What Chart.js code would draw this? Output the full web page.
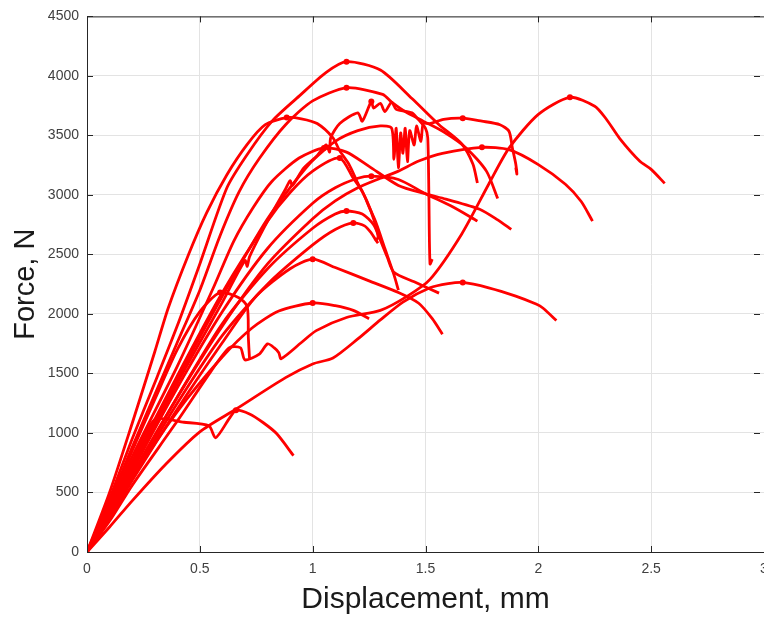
<!DOCTYPE html>
<html>
<head>
<meta charset="utf-8">
<script src="https://cdn.jsdelivr.net/npm/chart.js@4.4.1/dist/chart.umd.min.js"></script>
<style>
  html, body { margin: 0; padding: 0; background: #fff; overflow: hidden; }
  #wrap { position: absolute; left: 0; top: 0; width: 764px; height: 618px; }
</style>
</head>
<body>
<div id="wrap"><canvas id="forceChart" width="764" height="618"></canvas></div>
<script>
// displacement (mm), force (N) pairs
const specimen01 = [[0,0],[0.1,450],[0.2,950],[0.3,1420],[0.4,1900],[0.5,2420],[0.62,3060],[0.71,3340],[0.82,3620],[0.94,3830],[1.06,4030],[1.15,4120],[1.3,4050],[1.44,3810],[1.56,3590],[1.66,3430],[1.71,3260],[1.73,3100]];
const specimen02 = [[0,0],[0.1,420],[0.2,880],[0.3,1320],[0.4,1760],[0.5,2200],[0.59,2660],[0.675,3030],[0.765,3310],[0.88,3590],[1.0,3790],[1.15,3900],[1.31,3845],[1.35,3780],[1.41,3700],[1.49,3620],[1.58,3530],[1.68,3395],[1.77,3200],[1.82,2970]];
const specimen03 = [[0,0],[0.1,500],[0.2,1080],[0.3,1680],[0.36,2050],[0.45,2500],[0.53,2850],[0.62,3170],[0.71,3425],[0.79,3590],[0.885,3650],[0.95,3640],[1.02,3600],[1.09,3480],[1.12,3370],[1.16,3260],[1.2,3100],[1.24,2950],[1.27,2800],[1.29,2650],[1.28,2610]];
const specimen04 = [[0,0],[0.1,330],[0.2,700],[0.4,1420],[0.6,2100],[0.7,2450],[0.71,2400],[0.72,2480],[0.8,2780],[0.88,3050],[0.9,3120],[0.91,3080],[0.96,3225],[1.02,3330],[1.06,3420],[1.075,3360],[1.08,3480],[1.12,3600],[1.2,3690],[1.22,3620],[1.26,3785],[1.27,3730],[1.3,3770],[1.32,3700],[1.35,3780],[1.37,3720],[1.44,3690],[1.47,3630],[1.5,3560],[1.51,3480],[1.515,3000],[1.52,2420],[1.53,2460]];
const specimen05 = [[0,0],[0.1,330],[0.2,720],[0.4,1450],[0.6,2150],[0.8,2800],[0.985,3260],[1.1,3450],[1.2,3540],[1.3,3580],[1.35,3560],[1.36,3300],[1.37,3560],[1.38,3230],[1.39,3520],[1.4,3350],[1.41,3560],[1.42,3280],[1.43,3540],[1.45,3420],[1.46,3580],[1.48,3450],[1.49,3600],[1.52,3600],[1.58,3635],[1.665,3645],[1.75,3620],[1.83,3590],[1.87,3535],[1.885,3395],[1.9,3260],[1.905,3175],[1.9,3230]];
const specimen06 = [[0,0],[0.1,360],[0.2,800],[0.4,1560],[0.56,2220],[0.65,2610],[0.735,2890],[0.82,3115],[0.94,3310],[1.05,3395],[1.15,3360],[1.25,3240],[1.38,3080],[1.5,3010],[1.59,2965],[1.74,2880],[1.82,2790],[1.88,2710]];
const specimen07 = [[0,0],[0.1,340],[0.2,740],[0.4,1480],[0.6,2180],[0.8,2780],[0.9,3020],[1.0,3200],[1.12,3310],[1.18,3140],[1.22,3030],[1.25,2900],[1.28,2770],[1.32,2550],[1.36,2330],[1.38,2200]];
const specimen08 = [[0,0],[0.1,300],[0.2,650],[0.4,1300],[0.6,1900],[0.8,2420],[1.0,2800],[1.1,2950],[1.2,3060],[1.3,3140],[1.38,3200],[1.47,3285],[1.575,3350],[1.75,3400],[1.87,3380],[2.0,3255],[2.12,3090],[2.19,2945],[2.24,2780]];
const specimen09 = [[0,0],[0.1,310],[0.2,680],[0.4,1380],[0.6,2020],[0.8,2550],[1.0,2930],[1.1,3060],[1.2,3140],[1.26,3158],[1.38,3130],[1.5,3010],[1.62,2900],[1.73,2780]];
const specimen10 = [[0,0],[0.1,300],[0.2,640],[0.4,1300],[0.6,1920],[0.8,2380],[1.0,2720],[1.1,2840],[1.15,2865],[1.22,2840],[1.27,2750],[1.3,2620],[1.33,2480],[1.36,2350],[1.45,2270],[1.56,2175]];
const specimen11 = [[0,0],[0.1,290],[0.2,620],[0.4,1250],[0.6,1820],[0.8,2250],[1.0,2580],[1.1,2710],[1.18,2765],[1.23,2740],[1.26,2680],[1.28,2620],[1.29,2595]];
const specimen12 = [[0,0],[0.1,280],[0.2,600],[0.4,1200],[0.6,1760],[0.75,2150],[0.9,2380],[1.0,2460],[1.1,2390],[1.25,2278],[1.38,2180],[1.47,2090],[1.53,1960],[1.575,1830]];
const specimen13 = [[0,0],[0.1,400],[0.2,850],[0.3,1280],[0.4,1700],[0.5,2020],[0.59,2180],[0.675,2135],[0.71,2060],[0.715,1800],[0.72,1630]];
const specimen14 = [[0,0],[0.1,280],[0.2,620],[0.4,1180],[0.6,1640],[0.73,1880],[0.85,2025],[1.0,2092],[1.1,2070],[1.18,2030],[1.25,1960]];
const specimen15 = [[0,0],[0.1,210],[0.2,430],[0.35,740],[0.5,1010],[0.66,1200],[0.88,1465],[1.0,1580],[1.09,1630],[1.2,1790],[1.3,1950],[1.4,2100],[1.52,2220],[1.6,2255],[1.665,2265],[1.78,2220],[1.9,2150],[1.99,2083],[2.02,2050],[2.08,1945]];
const specimen16 = [[0,0],[0.1,260],[0.2,560],[0.4,1100],[0.55,1520],[0.63,1716],[0.68,1716],[0.7,1614],[0.765,1665],[0.8,1749],[0.83,1715],[0.85,1675],[0.86,1624],[0.95,1760],[1.016,1860],[1.15,1970],[1.3,2030],[1.42,2150],[1.52,2290],[1.66,2670],[1.78,3090],[1.87,3393],[2.0,3677],[2.14,3820],[2.25,3745],[2.3,3640],[2.36,3476],[2.45,3283],[2.5,3215],[2.56,3097]];
const specimen17 = [[0,0],[0.1,380],[0.2,760],[0.3,1112],[0.43,1090],[0.54,1060],[0.57,960],[0.63,1120],[0.66,1190],[0.72,1160],[0.78,1088],[0.84,995],[0.915,810]];

const specimens = [specimen01, specimen02, specimen03, specimen04, specimen05, specimen06, specimen07, specimen08, specimen09,
                   specimen10, specimen11, specimen12, specimen13, specimen14, specimen15, specimen16, specimen17];

const xTicks = [0, 0.5, 1, 1.5, 2, 2.5, 3];
const yTicks = [0, 500, 1000, 1500, 2000, 2500, 3000, 3500, 4000, 4500];

// index of the max force point -> gets the dot
function peakIndex(pts) {
    let best = 0;
    pts.forEach((p, i) => { if (p[1] > pts[best][1]) best = i; });
    return best;
}

const datasets = specimens.map(pts => {
    const peak = peakIndex(pts);
    return {
        data: pts.map(p => ({ x: p[0], y: p[1] })),
        showLine: true,
        borderColor: '#ff0000',
        backgroundColor: '#ff0000',
        borderWidth: 2.8,
        tension: 0.25,
        pointRadius: ctx => ctx.dataIndex === peak ? 3 : 0,
        pointBorderWidth: 0,
        pointHoverRadius: 0
    };
});

// matlab style box with inward ticks
const boxTicks = {
    id: 'boxTicks',
    afterDraw(chart) {
        const { ctx, chartArea: a, scales } = chart;
        ctx.save();
        ctx.strokeStyle = '#262626';
        ctx.lineWidth = 1;
        ctx.strokeRect(a.left + 0.5, a.top + 0.5, a.right - a.left, a.bottom - a.top);
        ctx.beginPath();
        xTicks.forEach(v => {
            const px = Math.round(scales.x.getPixelForValue(v)) + 0.5;
            ctx.moveTo(px, a.bottom); ctx.lineTo(px, a.bottom - 6);
            ctx.moveTo(px, a.top); ctx.lineTo(px, a.top + 6);
        });
        yTicks.forEach(v => {
            const py = Math.round(scales.y.getPixelForValue(v)) + 0.5;
            ctx.moveTo(a.left, py); ctx.lineTo(a.left + 6, py);
            ctx.moveTo(a.right - 4, py); ctx.lineTo(a.right - 10, py);
        });
        ctx.stroke();
        ctx.restore();
    }
};

const ctx = document.getElementById('forceChart').getContext('2d');
new Chart(ctx, {
    type: 'scatter',
    data: { datasets: datasets },
    options: {
        responsive: false,
        animation: false,
        layout: { padding: { top: 15, right: 0, left: 0, bottom: 0 } },
        plugins: {
            legend: { display: false },
            tooltip: { enabled: false }
        },
        scales: {
            x: {
                type: 'linear',
                min: 0,
                max: 3,
                afterFit: scale => { scale.height = 66; scale.paddingRight = 0; },
                afterBuildTicks: scale => { scale.ticks = xTicks.map(v => ({ value: v })); },
                ticks: {
                    padding: 9,
                    color: '#404040',
                    font: { family: 'Liberation Sans, Arial, sans-serif', size: 14 },
                    maxRotation: 0,
                    callback: v => String(v)
                },
                grid: { color: '#e3e3e3', lineWidth: 1, drawTicks: false },
                border: { display: false },
                title: {
                    display: true,
                    text: 'Displacement, mm',
                    color: '#1a1a1a',
                    font: { family: 'Liberation Sans, Arial, sans-serif', size: 30 },
                    padding: { top: 2, bottom: 0 }
                }
            },
            y: {
                type: 'linear',
                min: 0,
                max: 4500,
                afterFit: scale => { scale.width = 87; },
                afterBuildTicks: scale => { scale.ticks = yTicks.map(v => ({ value: v })); },
                ticks: {
                    padding: 8,
                    color: '#404040',
                    font: { family: 'Liberation Sans, Arial, sans-serif', size: 14 },
                    callback: v => String(v)
                },
                grid: { color: '#e3e3e3', lineWidth: 1, drawTicks: false },
                border: { display: false },
                title: {
                    display: true,
                    text: 'Force, N',
                    color: '#1a1a1a',
                    font: { family: 'Liberation Sans, Arial, sans-serif', size: 29 },
                    padding: { top: 9, bottom: 0 }
                }
            }
        }
    },
    plugins: [boxTicks]
});
</script>
</body>
</html>
